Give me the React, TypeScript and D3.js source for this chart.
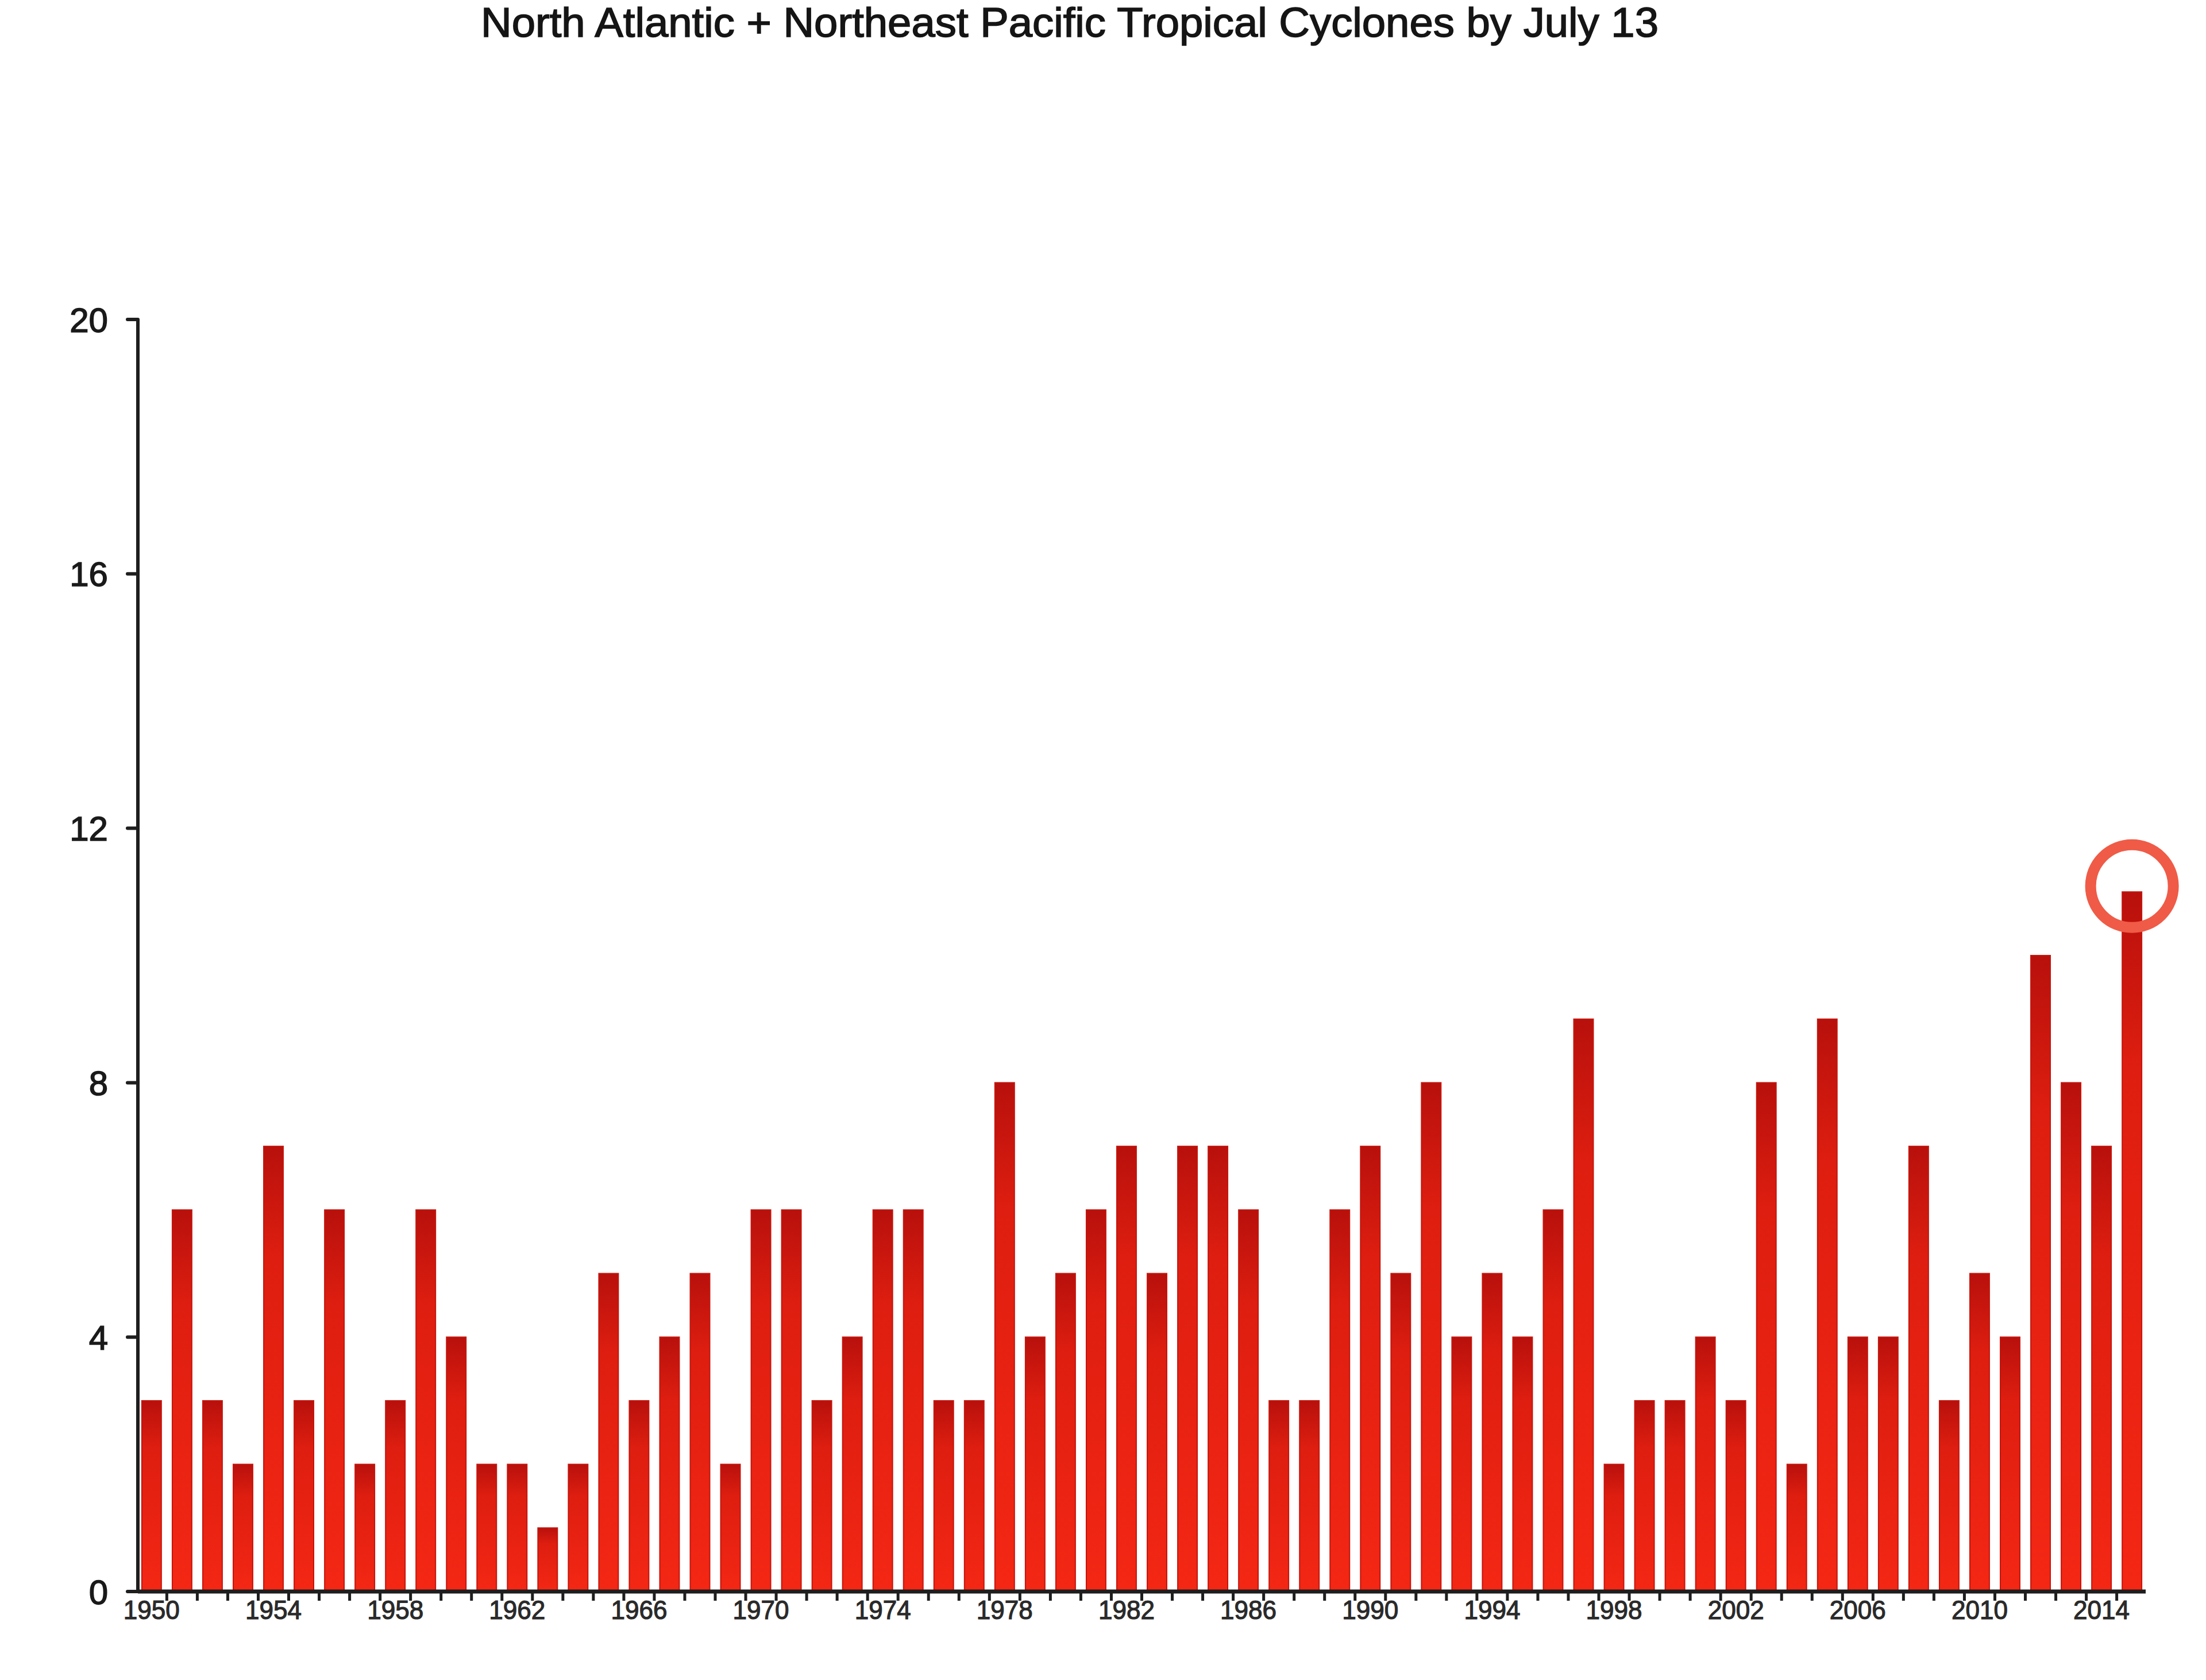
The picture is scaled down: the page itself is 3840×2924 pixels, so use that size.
import React, { useEffect, useRef } from "react";
import * as d3 from "d3";

const years: number[] = d3.range(1950, 2016);

// storms by July 13, one per year 1950..2015
const stormCounts: number[] = [
  3, 6, 3, 2, 7, 3, 6, 2, 3, 6,
  4, 2, 2, 1, 2, 5, 3, 4, 5, 2,
  6, 6, 3, 4, 6, 6, 3, 3, 8, 4,
  5, 6, 7, 5, 7, 7, 6, 3, 3, 6,
  7, 5, 8, 4, 5, 4, 6, 9, 2, 3,
  3, 4, 3, 8, 2, 9, 4, 4, 7, 3,
  5, 4, 10, 8, 7, 11,
];

const yTicks: number[] = [0, 4, 8, 12, 16, 20];
const labelYears: number[] = d3.range(1950, 2016, 4);
const highlightYear = 2015;

const TITLE = "North Atlantic + Northeast Pacific Tropical Cyclones by July 13";

const WIDTH = 3840;
const HEIGHT = 2924;
const margin = { top: 556, right: 105, bottom: 154, left: 240 };

export default function App() {
  const svgRef = useRef<SVGSVGElement>(null);

  useEffect(() => {
    document.body.style.margin = "0";
    if (!svgRef.current) return;

    const svg = d3.select(svgRef.current);
    svg.selectAll("*").remove();

    const x = d3
      .scaleBand<number>()
      .domain(years)
      .range([margin.left, WIDTH - margin.right])
      .paddingInner(0.36)
      .paddingOuter(0.13);

    const y = d3
      .scaleLinear()
      .domain([0, 20])
      .range([HEIGHT - margin.bottom, margin.top]);

    // gradient so the bar tops get darker, like the original
    const defs = svg.append("defs");
    const grad = defs
      .append("linearGradient")
      .attr("id", "barGrad")
      .attr("x1", 0)
      .attr("y1", 0)
      .attr("x2", 0)
      .attr("y2", 1);
    grad.append("stop").attr("offset", "0%").attr("stop-color", "#b8100c");
    grad.append("stop").attr("offset", "25%").attr("stop-color", "#de1e10");
    grad.append("stop").attr("offset", "100%").attr("stop-color", "#f42714");

    const font = "Liberation Sans, Arial, sans-serif";

    // title
    svg
      .append("text")
      .attr("x", 1862)
      .attr("y", 64)
      .attr("text-anchor", "middle")
      .attr("font-family", font)
      .attr("font-size", 72)
      .attr("fill", "#151515")
      .attr("stroke", "#151515")
      .attr("stroke-width", 1.6)
      .attr("textLength", 2050)
      .attr("lengthAdjust", "spacingAndGlyphs")
      .text(TITLE);

    // bars
    svg
      .append("g")
      .selectAll("rect")
      .data(years)
      .enter()
      .append("rect")
      .attr("x", (d) => x(d)!)
      .attr("y", (d, i) => y(stormCounts[i]))
      .attr("width", x.bandwidth())
      .attr("height", (d, i) => y(0) - y(stormCounts[i]))
      .attr("fill", "url(#barGrad)")
      .attr("stroke", "#c4160e")
      .attr("stroke-width", 2);

    // y axis
    const yAxis = svg.append("g").attr("class", "y-axis");
    yAxis
      .append("line")
      .attr("x1", margin.left)
      .attr("x2", margin.left)
      .attr("y1", y(20))
      .attr("y2", y(0))
      .attr("stroke", "#1e1e1e")
      .attr("stroke-width", 6);
    yAxis
      .selectAll(".tick")
      .data(yTicks)
      .enter()
      .append("line")
      .attr("x1", margin.left - 18)
      .attr("x2", margin.left)
      .attr("y1", (d) => y(d))
      .attr("y2", (d) => y(d))
      .attr("stroke", "#1e1e1e")
      .attr("stroke-width", 6)
      .attr("stroke-linecap", "round");
    yAxis
      .selectAll("text")
      .data(yTicks)
      .enter()
      .append("text")
      .attr("x", 188)
      .attr("y", (d) => y(d))
      .attr("dy", "0.36em")
      .attr("text-anchor", "end")
      .attr("font-family", font)
      .attr("font-size", 60)
      .attr("fill", "#1a1a1a")
      .attr("stroke", "#1a1a1a")
      .attr("stroke-width", 1.5)
      .text((d) => d);

    // x axis with ticks between categories
    const xAxis = svg.append("g").attr("class", "x-axis");
    const step = x.step();
    const boundaries = years.slice(1).map((yr) => x(yr)! - (step - x.bandwidth()) / 2);
    xAxis
      .selectAll(".tick")
      .data(boundaries)
      .enter()
      .append("line")
      .attr("x1", (d) => d)
      .attr("x2", (d) => d)
      .attr("y1", y(0))
      .attr("y2", y(0) + 16)
      .attr("stroke", "#1e1e1e")
      .attr("stroke-width", 5);
    xAxis
      .append("line")
      .attr("x1", margin.left)
      .attr("x2", WIDTH - margin.right)
      .attr("y1", y(0))
      .attr("y2", y(0))
      .attr("stroke", "#1e1e1e")
      .attr("stroke-width", 7);
    xAxis
      .selectAll("text")
      .data(labelYears)
      .enter()
      .append("text")
      .attr("x", (d) => x(d)! + x.bandwidth() / 2)
      .attr("y", y(0) + 48)
      .attr("text-anchor", "middle")
      .attr("font-family", font)
      .attr("font-size", 46)
      .attr("fill", "#2a2a2a")
      .attr("stroke", "#2a2a2a")
      .attr("stroke-width", 1.2)
      .attr("textLength", 98)
      .attr("lengthAdjust", "spacingAndGlyphs")
      .text((d) => d);

    // highlight ring on the record year
    const hi = years.indexOf(highlightYear);
    svg
      .append("circle")
      .attr("cx", x(highlightYear)! + x.bandwidth() / 2)
      .attr("cy", y(stormCounts[hi]) - 10)
      .attr("r", 72)
      .attr("fill", "none")
      .attr("stroke", "#ef5b47")
      .attr("stroke-width", 19);
  }, []);

  return (
    <svg
      ref={svgRef}
      width={WIDTH}
      height={HEIGHT}
      style={{ display: "block", background: "#fff" }}
    />
  );
}
